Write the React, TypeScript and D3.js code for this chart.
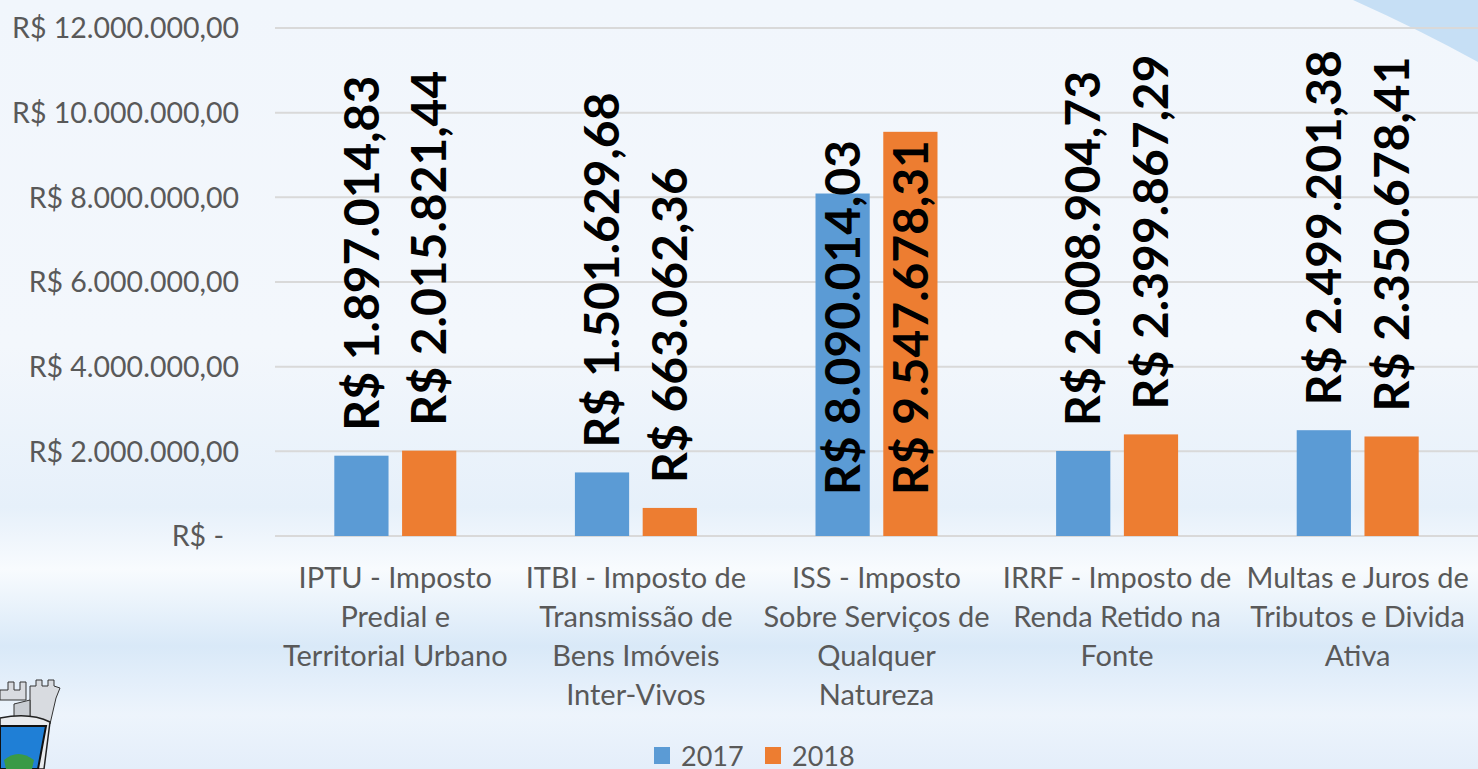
import * as React from "react"
import * as d3 from "d3"

// receitas por tributo, 2017 x 2018
const categorias = [
    ["IPTU - Imposto", "Predial e", "Territorial Urbano"],
    ["ITBI -  Imposto de", "Transmissão de", "Bens Imóveis", "Inter-Vivos"],
    ["ISS - Imposto", "Sobre Serviços de", "Qualquer", "Natureza"],
    ["IRRF - Imposto de", "Renda Retido na", "Fonte"],
    ["Multas e Juros de", "Tributos e Divida", "Ativa"],
]
const series = ["2017", "2018"]
const valores2017 = [1897014.83, 1501629.68, 8090014.03, 2008904.73, 2499201.38]
const valores2018 = [2015821.44, 663062.36, 9547678.31, 2399867.29, 2350678.41]
const ticks = [0, 2000000, 4000000, 6000000, 8000000, 10000000, 12000000]
const tickLabels = ["R$ -", "R$ 2.000.000,00", "R$ 4.000.000,00", "R$ 6.000.000,00", "R$ 8.000.000,00", "R$ 10.000.000,00", "R$ 12.000.000,00"]
const cores = ["#5B9BD5", "#ED7D31"]

const W = 1478
const H = 769
const font = "Lato, 'Open Sans', sans-serif"

const brl = (v: number) => {
    const [int, dec] = v.toFixed(2).split(".")
    return "R$ " + int.replace(/\B(?=(\d{3})+(?!\d))/g, ".") + "," + dec
}

export default function App() {
    React.useEffect(() => {
        document.body.style.margin = "0"
    }, [])

    const x0 = d3.scaleBand<number>()
        .domain(d3.range(categorias.length))
        .range([275, W])
        .paddingInner(0.493)
        .paddingOuter(0.2465)
    const x1 = d3.scaleBand<string>()
        .domain(series)
        .range([0, x0.bandwidth()])
        .paddingInner(0.2)
    const y = d3.scaleLinear().domain([0, 12000000]).range([536, 28])

    const labelLen = 355
    const dados = [valores2017, valores2018]

    return (
        <svg width={W} height={H} style={{ position: "absolute", left: 0, top: 0, display: "block" }}>
            <defs>
                <linearGradient id="bg" x1="0" y1="0" x2="0" y2="1">
                    <stop offset="0" stopColor="#f1f6fc" />
                    <stop offset="0.45" stopColor="#f3f7fc" />
                    <stop offset="0.66" stopColor="#e6f0fa" />
                    <stop offset="0.74" stopColor="#f8fbfe" />
                    <stop offset="0.84" stopColor="#d9e9f8" />
                    <stop offset="0.93" stopColor="#edf4fc" />
                    <stop offset="1" stopColor="#e4eefa" />
                </linearGradient>
            </defs>
            <rect width={W} height={H} fill="url(#bg)" />
            <path d={`M1353,0 Q1420,30 1478,62 L${W},0 Z`} fill="#c6dff5" />

            {/* logo, simplificado */}
            <g>
                <path d="M0,690 L8,690 L8,682 L14,682 L14,690 L20,690 L20,682 L26,682 L26,700 L0,700 Z" fill="#d8dbe0" stroke="#333" strokeWidth={1} />
                <path d="M30,686 L36,686 L36,680 L42,680 L42,686 L48,686 L48,680 L54,680 L54,686 L60,688 L56,698 L50,724 L30,722 Z" fill="#d8dbe0" stroke="#333" strokeWidth={1} />
                <path d="M14,704 L30,700 L30,722 L14,722 Z" fill="#c9cdd3" stroke="#333" strokeWidth={1} />
                <path d="M0,718 Q30,712 50,722 L44,769 L0,769 Z" fill="#e9ebee" stroke="#222" strokeWidth={1.5} />
                <path d="M0,726 L46,726 L38,769 L0,769 Z" fill="#1f7fd6" stroke="#111" strokeWidth={2} />
                <path d="M4,760 Q18,748 34,760 L32,769 L6,769 Z" fill="#3a9a45" />
            </g>

            {/* grade */}
            {ticks.map((t) => (
                <line key={t} x1={275} x2={W} y1={y(t)} y2={y(t)} stroke="#d9d9d9" strokeWidth={2} />
            ))}
            {ticks.map((t, i) => (
                <text key={"t" + t} x={t === 0 ? 224 : 239} y={y(t)} dy="0.36em" textAnchor="end"
                    fontFamily={font} fontSize={28.5} fill="#595959">
                    {tickLabels[i]}
                </text>
            ))}

            {/* barras */}
            {dados.map((vals, s) => (
                <g key={series[s]}>
                    {vals.map((v, i) => (
                        <rect key={i} x={(x0(i) as number) + (x1(series[s]) as number)} y={y(v)}
                            width={x1.bandwidth()} height={y(0) - y(v)} fill={cores[s]} />
                    ))}
                </g>
            ))}

            {/* rótulos */}
            {dados.map((vals, s) => (
                <g key={"l" + series[s]}>
                    {vals.map((v, i) => {
                        const cx = (x0(i) as number) + (x1(series[s]) as number) + x1.bandwidth() / 2
                        let base = y(v) - 25
                        if (base - labelLen < y(12000000)) base = y(0) - 41
                        return (
                            <text key={i} transform={`translate(${cx},${base}) rotate(-90)`} dy="0.36em"
                                fontFamily={font} fontWeight={700} fontSize={48} fill="#000">
                                {brl(v)}
                            </text>
                        )
                    })}
                </g>
            ))}

            {/* categorias */}
            {categorias.map((linhas, i) => (
                <text key={"c" + i} textAnchor="middle" fontFamily={font} fontSize={29} fill="#595959">
                    {linhas.map((l, j) => (
                        <tspan key={j} x={(x0(i) as number) + x0.bandwidth() / 2} y={588 + j * 39}>{l}</tspan>
                    ))}
                </text>
            ))}

            {/* legenda */}
            {series.map((s, i) => (
                <g key={"lg" + s} transform={`translate(${654 + i * 111},0)`}>
                    <rect x={0} y={747} width={16} height={17} fill={cores[i]} />
                    <text x={27} y={766} fontFamily={font} fontSize={27} fill="#595959">{s}</text>
                </g>
            ))}
        </svg>
    )
}
